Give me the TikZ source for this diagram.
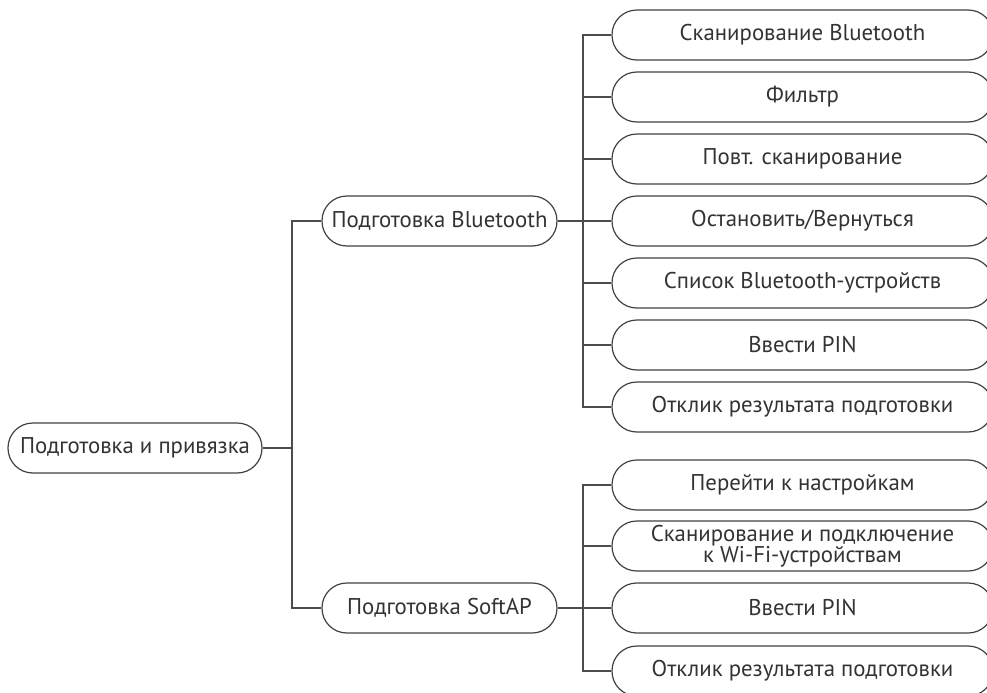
\documentclass[tikz,border=0pt]{standalone}
\usepackage{fontspec}
\setmainfont{PT Sans}
\begin{document}
\begin{tikzpicture}[x=0.5pt,y=-0.5pt,
  every node/.style={font=\fontsize{11.4}{12}\selectfont, text=black!80},
  pill/.style={draw=black!75, line width=0.6pt, rounded corners=12.4pt,
    minimum height=25pt, inner sep=0pt, align=center, text=black!80},
  rootbox/.style={pill, minimum width=127pt},
  midbox/.style={pill, minimum width=117.5pt},
  leafbox/.style={pill, minimum width=190.5pt},
  link/.style={draw=black!70, line width=0.6pt}]
\clip (0,0) rectangle (987,692);

% root
\node[rootbox] (root) at (135,448) {Подготовка и привязка};

% second level
\node[midbox] (bt) at (439.5,221) {Подготовка Bluetooth};
\node[midbox] (ap) at (439.5,608) {Подготовка SoftAP};

% Bluetooth leaves
\node[leafbox] (b1) at (802.5,35)  {Сканирование Bluetooth};
\node[leafbox] (b2) at (802.5,97)  {Фильтр};
\node[leafbox] (b3) at (802.5,159) {Повт. сканирование};
\node[leafbox] (b4) at (802.5,221) {Остановить/Вернуться};
\node[leafbox] (b5) at (802.5,283) {Список Bluetooth-устройств};
\node[leafbox] (b6) at (802.5,345) {Ввести PIN};
\node[leafbox] (b7) at (802.5,407) {Отклик результата подготовки};

% SoftAP leaves
\node[leafbox] (s1) at (802.5,485) {Перейти к настройкам};
\node[leafbox] (s2) at (802.5,546) {Сканирование и подключение\\[-1.5pt]к Wi-Fi-устройствам};
\node[leafbox] (s3) at (802.5,608) {Ввести PIN};
\node[leafbox] (s4) at (802.5,671) {Отклик результата подготовки};

% trunk coordinates
\coordinate (rj) at (292,448);
\coordinate (bj) at (583,221);
\coordinate (aj) at (583,608);

% root to second level
\draw[link] (root.east) -- (rj);
\draw[link] (rj) |- (bt.west);
\draw[link] (rj) |- (ap.west);

% Bluetooth branch
\draw[link] (bt.east) -- (bj);
\foreach \n in {b1,b2,b3,b4,b5,b6,b7}
  \draw[link] (bj) |- (\n.west);

% SoftAP branch
\draw[link] (ap.east) -- (aj);
\foreach \n in {s1,s2,s3,s4}
  \draw[link] (aj) |- (\n.west);
\end{tikzpicture}
\end{document}
